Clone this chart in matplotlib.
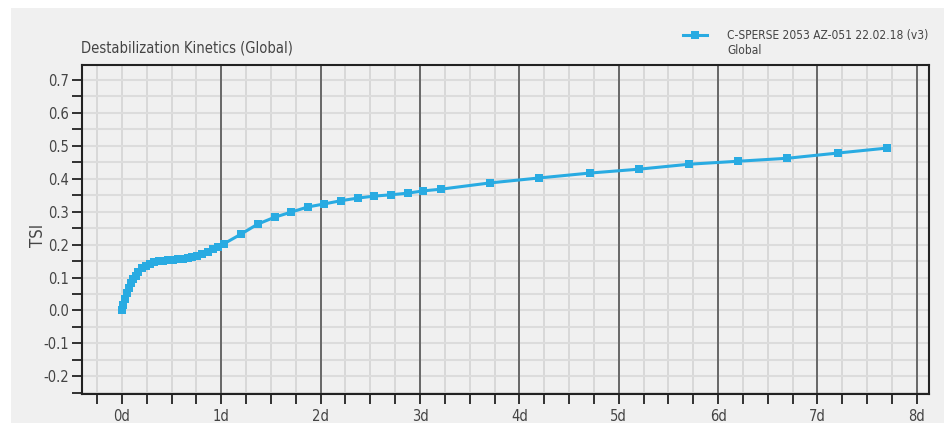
import matplotlib
matplotlib.use("Agg")
import matplotlib.pyplot as plt
from matplotlib.patches import Rectangle
from matplotlib.lines import Line2D
from matplotlib.ticker import MultipleLocator, FixedLocator

plt.rcParams['font.family'] = ['DejaVu Sans']
plt.rcParams['font.stretch'] = 'condensed'

# Data (days, TSI)
days = [0.0, 0.015, 0.032, 0.052, 0.072, 0.094, 0.116, 0.139, 0.166, 0.2,
        0.24, 0.28, 0.324, 0.372, 0.418, 0.465, 0.51, 0.56, 0.61, 0.66,
        0.71, 0.76, 0.81, 0.865, 0.92, 0.97, 1.03,
        1.2, 1.366, 1.537, 1.698, 1.869, 2.03, 2.201, 2.372, 2.533, 2.704,
        2.875, 3.033, 3.207, 3.7, 4.193, 4.706, 5.209, 5.712, 6.205, 6.698,
        7.211, 7.704]
tsi = [0.0, 0.018, 0.035, 0.053, 0.068, 0.083, 0.095, 0.106, 0.118, 0.128,
       0.136, 0.142, 0.146, 0.149, 0.151, 0.153, 0.154, 0.156, 0.157, 0.159,
       0.162, 0.166, 0.171, 0.177, 0.186, 0.194, 0.203,
       0.232, 0.262, 0.283, 0.298, 0.314, 0.323, 0.333, 0.341, 0.347, 0.351,
       0.356, 0.363, 0.368, 0.387, 0.402, 0.417, 0.429, 0.444, 0.453, 0.462,
       0.478, 0.493]

x_major = [0, 1, 2, 3, 4, 5, 6, 7, 8]
x_labels = ["0d", "1d", "2d", "3d", "4d", "5d", "6d", "7d", "8d"]
y_major = [-0.2, -0.1, 0.0, 0.1, 0.2, 0.3, 0.4, 0.5, 0.6, 0.7]
y_labels = ["-0.2", "-0.1", "0.0", "0.1", "0.2", "0.3", "0.4", "0.5", "0.6", "0.7"]

series_label = "C-SPERSE 2053 AZ-051 22.02.18 (v3)"
series_sub = "Global"
title = "Destabilization Kinetics (Global)"

W, H = 944, 423
BG = "#f0f0f0"
BLUE = "#29abe2"
TXT = "#444444"

fig = plt.figure(figsize=(W / 100, H / 100), dpi=100, facecolor="white")
fig.add_artist(Rectangle((11 / W, 0), 1, (H - 8) / H, transform=fig.transFigure,
                         facecolor=BG, edgecolor="none", zorder=-10))

ax = fig.add_axes([81.7 / W, (H - 393.7) / H, (928.7 - 81.7) / W, (393.7 - 64.7) / H])
ax.set_facecolor(BG)
ax.set_xlim(-0.405, 8.12)
ax.set_ylim(-0.2527, 0.746)

ax.xaxis.set_major_locator(FixedLocator(x_major))
ax.set_xticklabels(x_labels)
ax.xaxis.set_minor_locator(MultipleLocator(0.25))
ax.yaxis.set_major_locator(FixedLocator(y_major))
ax.set_yticklabels(y_labels)
ax.yaxis.set_minor_locator(MultipleLocator(0.05))

ax.tick_params(axis="both", which="both", direction="out", color="#222222",
               width=1.3, length=7, labelsize=10.5, labelcolor=TXT)
ax.tick_params(axis="x", which="major", pad=4)
ax.tick_params(axis="y", which="major", pad=2)

ax.grid(True, axis="x", which="both", color="#d4d4d4", linewidth=1.2, zorder=0)
ax.grid(True, axis="y", which="both", color="#dcdcdc", linewidth=1.5, zorder=0)
ax.set_axisbelow(True)
for d in x_major[1:]:
    ax.axvline(d, color="#555555", linewidth=1.2, zorder=1)

for s in ax.spines.values():
    s.set_color("#222222")
    s.set_linewidth(1.5)

ax.plot(days, tsi, color=BLUE, linewidth=2.2, marker="s", markersize=6,
        markeredgewidth=0, zorder=3)

ax.set_ylabel("TSI", fontsize=12, color=TXT)
ax.yaxis.set_label_coords(-0.041, 0.48)

fig.text(81 / W, 1 - 48 / H, title, fontsize=10.5, color=TXT, ha="left", va="center")

ly = 1 - 35 / H
fig.add_artist(Line2D([683 / W, 707 / W], [ly, ly], color=BLUE, linewidth=2.2,
                      transform=fig.transFigure))
fig.add_artist(Line2D([695 / W], [ly], color=BLUE, marker="s", markersize=6,
                      markeredgewidth=0, transform=fig.transFigure))
fig.text(727 / W, ly, series_label, fontsize=8.6, color=TXT, ha="left", va="center")
fig.text(727 / W, 1 - 51 / H, series_sub, fontsize=8.6, color=TXT, ha="left", va="center")

fig.savefig("out.png", dpi=100, facecolor="white")
